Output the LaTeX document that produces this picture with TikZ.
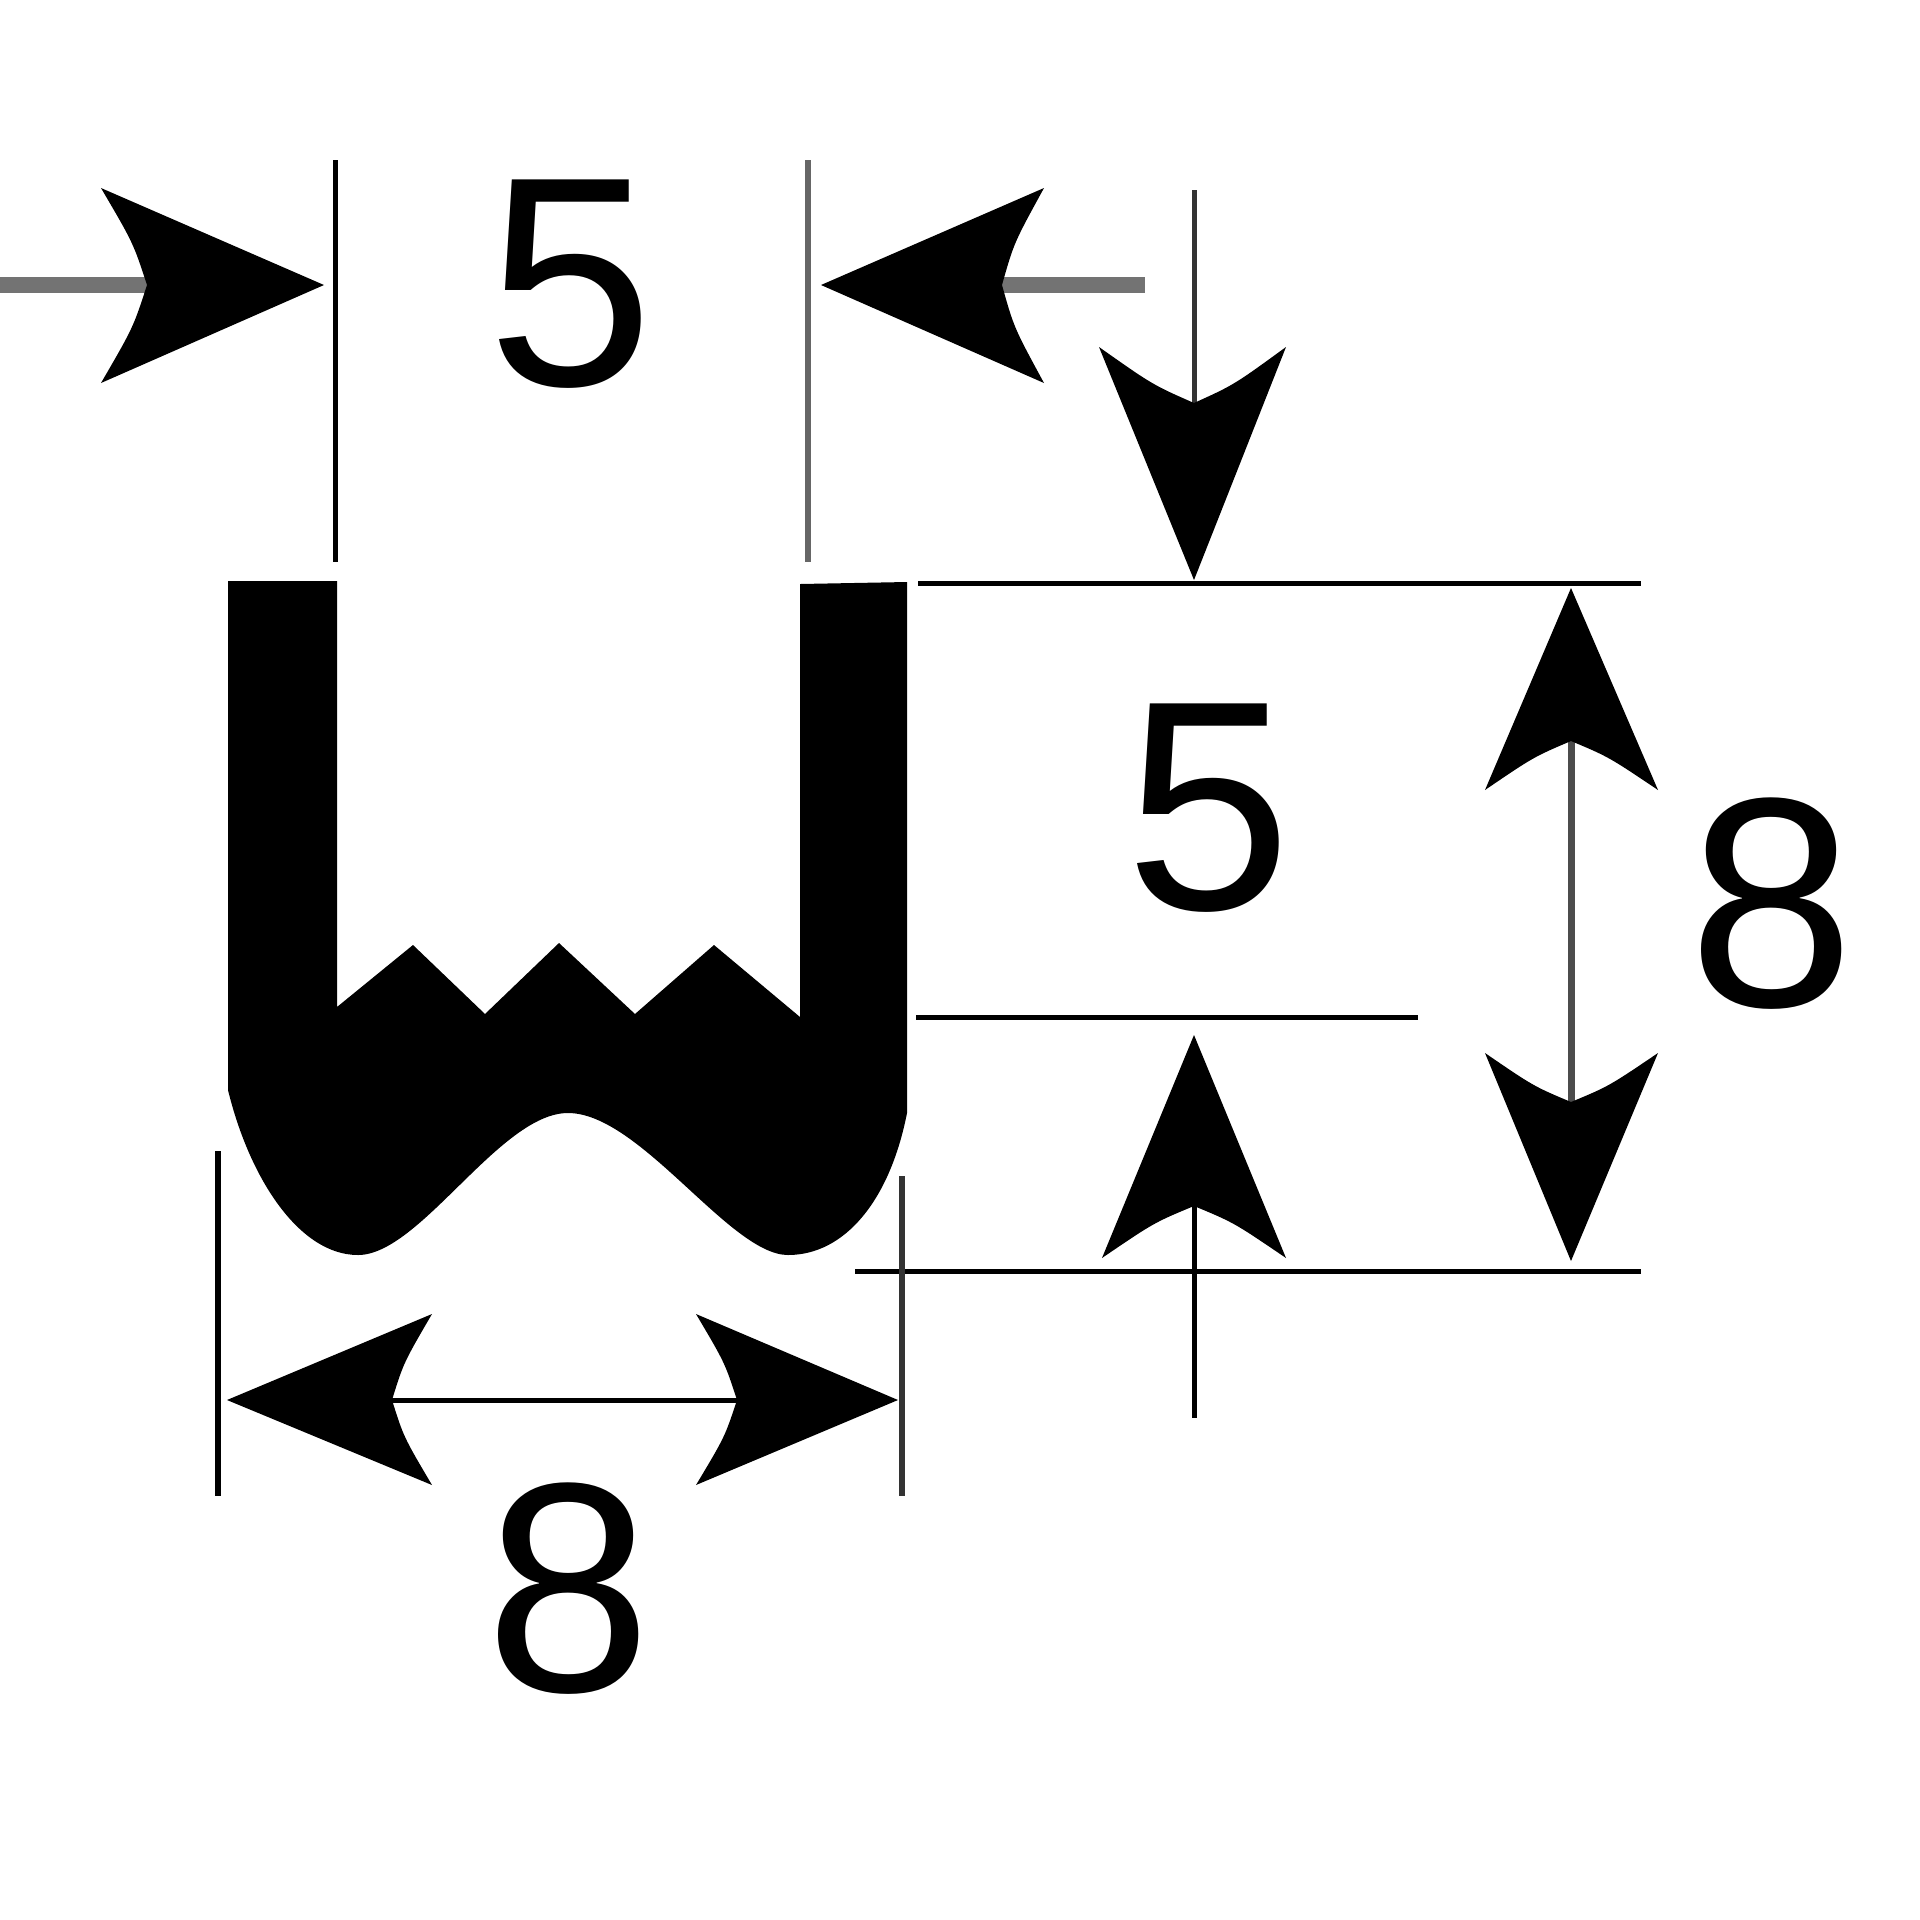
\documentclass[tikz,border=0pt]{standalone}
\usepackage{fontspec}
\usetikzlibrary{calc}
\setmainfont{Liberation Sans}
\tikzset{
  head/.style={fill=black,draw=none},
  thin line/.style={draw=black,line width=0.05cm},
  mid line/.style={draw=black!60,line width=0.06cm},
  thick gray/.style={draw=black!55,line width=0.16cm},
  dimtext/.style={inner sep=0pt,font=\fontsize{85}{85}\selectfont}
}
\newcommand{\arrowhd}[4]{\fill[head] #1 -- #2 .. controls ($#2!0.55!#3!0.035!#1$) .. #3 .. controls ($#4!0.55!#3!0.035!#1$) .. #4 -- cycle;}
\begin{document}
\begin{tikzpicture}[x=0.01cm,y=-0.01cm]
\useasboundingbox (0,0) rectangle (1920,1920);
\fill[white] (0,0) rectangle (1920,1920);
% profile
\fill[black] (228,581) -- (337,581) -- (337,1007) -- (413,945) -- (485,1014) -- (559,943) -- (635,1014) -- (714,945) -- (800,1017) -- (800,584) -- (907,582) -- (907,1113)
  .. controls (890,1200) and (845,1255) .. (788,1255)
  .. controls (730,1255) and (640,1113) .. (568,1113)
  .. controls (500,1113) and (420,1255) .. (358,1255)
  .. controls (300,1255) and (250,1180) .. (228,1090) -- cycle;
% top-left dimension
\draw[thick gray] (0,285) -- (155,285);
\arrowhd{(324,285)}{(101,188)}{(147,285)}{(101,383)}
\draw[thin line] (335,160) -- (335,562);
\draw[mid line] (808,160) -- (808,562);
\draw[thick gray] (995,285) -- (1145,285);
\arrowhd{(821,285)}{(1044,188)}{(1002,285)}{(1044,383)}
\node[dimtext] (topfive) at (571,284) {5};
% upper right dimension
\draw[thin line,draw=black!80] (1194,190) -- (1194,410);
\arrowhd{(1194,580)}{(1099,347)}{(1194,403)}{(1286,347)}
\draw[thin line] (918,583) -- (1641,583);
\draw[thin line] (916,1017) -- (1418,1017);
\draw[thin line] (855,1271) -- (1641,1271);
\node[dimtext] (midfive) at (1209,808) {5};
\draw[thin line] (1194,1200) -- (1194,1418);
\arrowhd{(1194,1035)}{(1102,1258)}{(1194,1206)}{(1286,1258)}
% right dimension
\draw[draw=black!70,line width=0.07cm] (1571,735) -- (1571,1108);
\arrowhd{(1571,588)}{(1485,790)}{(1571,741)}{(1658,790)}
\arrowhd{(1571,1261)}{(1485,1053)}{(1571,1102)}{(1658,1053)}
\node[dimtext] (righteight) at (1772,904) {8};
% bottom dimension
\draw[thin line] (218,1151) -- (218,1496);
\draw[draw=black!80,line width=0.06cm] (902,1176) -- (902,1496);
\draw[thin line] (385,1400) -- (745,1400);
\arrowhd{(227,1400)}{(432,1314)}{(392,1400)}{(432,1485)}
\arrowhd{(898,1400)}{(696,1314)}{(737,1400)}{(696,1485)}
\node[dimtext] (boteight) at (569,1589) {8};
\end{tikzpicture}
\end{document}
